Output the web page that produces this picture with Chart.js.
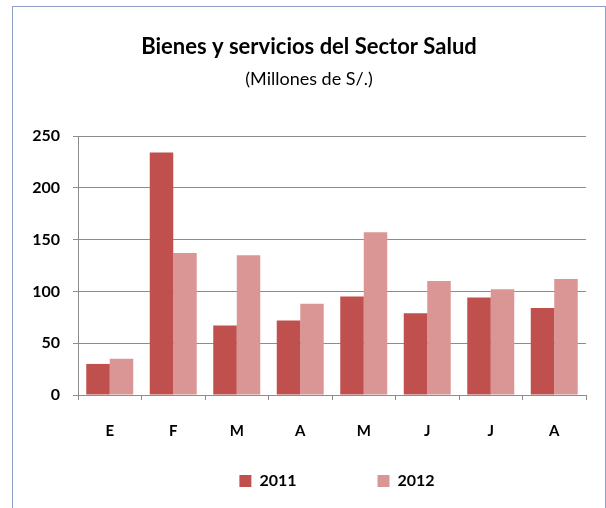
<!DOCTYPE html>
<html>
<head>
<meta charset="utf-8">
<script src="https://cdn.jsdelivr.net/npm/chart.js@4.4.0/dist/chart.umd.min.js"></script>
<style>
  html, body { margin: 0; padding: 0; background: #fff; overflow: hidden; }
  /* marco del gráfico (borde azul grisáceo) */
  #marco {
    position: absolute; left: 12px; top: 6px;
    width: 592px; height: 560px;
    border: 1px solid #8C9FC4;
  }
  #grafico { position: absolute; left: 13px; top: 7px; }
</style>
</head>
<body>
<div id="marco"></div>
<canvas id="grafico" width="592" height="545"></canvas>

<script>
// =============================================
//  Datos (millones de S/.)
// =============================================
const meses      = ['E', 'F', 'M', 'A', 'M', 'J', 'J', 'A'];
const serie2011  = [30, 234, 67, 72, 95, 79, 94, 84];
const serie2012  = [35, 137, 135, 88, 157, 110, 102, 112];
const ticksEjeY  = [0, 50, 100, 150, 200, 250];

const colorGris  = '#8C8C8C';
const fuente     = 'Lato, "Open Sans", "DejaVu Sans", sans-serif';

Chart.defaults.font.family = fuente;
Chart.defaults.color = '#000';

// La leyenda usa un "padding" grande para separar los dos items;
// después del layout la subimos y la corremos un poco a la derecha.
const moverLeyenda = {
  id: 'moverLeyenda',
  afterLayout(chart) {
    const lg = chart.legend;
    if (!lg) return;
    const dy = (chart.chartArea.bottom + 78) - (lg.top + lg.options.labels.padding);
    lg.top += dy;  lg.bottom += dy;
    lg.left += 5;  lg.right += 5;
  }
};

const ctx = document.getElementById('grafico').getContext('2d');

new Chart(ctx, {
  type: 'bar',
  data: {
    labels: meses,
    datasets: [
      {
        label: '2011',
        data: serie2011,
        backgroundColor: '#C0504D',
        borderWidth: 0,
        categoryPercentage: 0.74,
        barPercentage: 1.0
      },
      {
        label: '2012',
        data: serie2012,
        backgroundColor: '#D99694',
        borderWidth: 0,
        categoryPercentage: 0.74,
        barPercentage: 1.0
      }
    ]
  },
  plugins: [moverLeyenda],
  options: {
    responsive: false,
    animation: false,
    layout: { padding: { left: 19, right: 19, top: 0, bottom: 0 } },
    plugins: {
      title: {
        display: true,
        text: 'Bienes y servicios del Sector Salud',
        color: '#000',
        font: { size: 22, weight: 'bold' },
        padding: { top: 26.4, bottom: 0 }
      },
      subtitle: {
        display: true,
        text: '(Millones de S/.)',
        color: '#000',
        font: { size: 18, weight: 'normal' },
        padding: { top: 8.7, bottom: 45.9 }
      },
      legend: {
        position: 'bottom',
        fullSize: false,
        labels: {
          color: '#000',
          font: { size: 16, weight: 'bold' },
          boxWidth: 12,
          boxHeight: 12,
          padding: 81
        }
      },
      tooltip: { enabled: false }
    },
    scales: {
      x: {
        grid: {
          drawOnChartArea: false,
          offset: true,
          tickLength: 5,
          color: colorGris
        },
        border: { color: colorGris },
        ticks: {
          font: { size: 15, weight: 'bold' },
          padding: 22,
          color: '#000'
        },
        afterFit: s => { s.height = 50; }
      },
      y: {
        min: 0,
        max: 250,
        grid: { color: colorGris, tickLength: 5 },
        border: { color: colorGris },
        ticks: {
          stepSize: 50,
          font: { size: 16, weight: 'bold' },
          padding: 13,
          color: '#000'
        },
        afterBuildTicks: s => { s.ticks = ticksEjeY.map(v => ({ value: v })); },
        afterFit: s => { s.width = 46; }
      }
    }
  }
});
</script>
</body>
</html>
